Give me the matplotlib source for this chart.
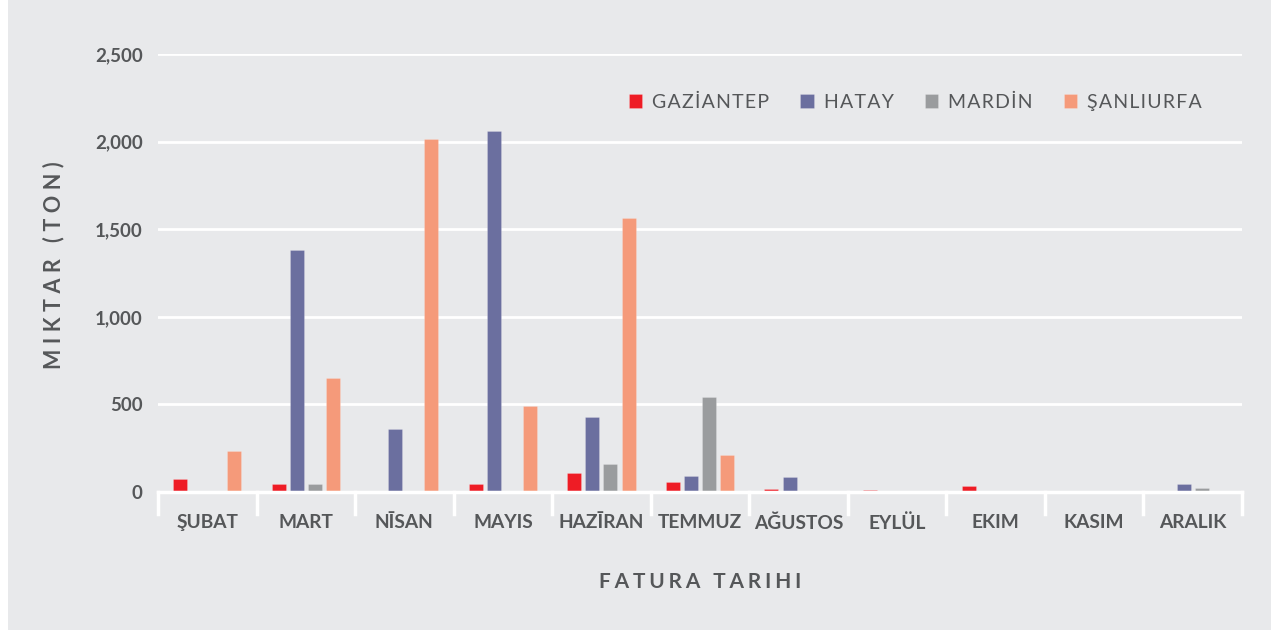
import matplotlib
matplotlib.use("Agg")
import matplotlib.pyplot as plt
import numpy as np
from matplotlib.patches import Rectangle

months = ["ŞUBAT", "MART", "NĪSAN", "MAYIS", "HAZĪRAN", "TEMMUZ", "AĞUSTOS", "EYLÜL", "EKIM", "KASIM", "ARALIK"]
series_names = ["GAZİANTEP", "HATAY", "MARDİN", "ŞANLIURFA"]
gaziantep = [72, 45, 5, 45, 110, 55, 15, 10, 35, 0, 0]
hatay = [0, 1380, 362, 2058, 430, 90, 84, 0, 0, 0, 48]
mardin = [0, 45, 0, 0, 158, 542, 0, 0, 0, 0, 22]
sanliurfa = [232, 650, 2015, 490, 1564, 212, 0, 0, 0, 0, 0]
colors = ["#ee1c25", "#6b6f9f", "#9a9c9e", "#f59a7a"]
yticks = [0, 500, 1000, 1500, 2000, 2500]

bg = "#e8e9eb"
txt = "#555759"
FONT = ["Lato", "DejaVu Sans"]
plt.rcParams["font.family"] = FONT

W, H = 1271, 630
fig = plt.figure(figsize=(W / 100, H / 100), dpi=100)
fig.patch.set_facecolor("white")
fig.add_artist(Rectangle((8 / W, 0), 1 - 8 / W, 1, transform=fig.transFigure,
                         facecolor=bg, edgecolor="none", zorder=-10))

ax = fig.add_axes([158 / W, 1 - 492 / H, (1242 - 158) / W, (492 - 54) / H])
ax.set_facecolor(bg)
ax.patch.set_alpha(0)

n = len(months)
x = np.arange(n)
bw = 0.142
step = 0.183
data = [gaziantep, hatay, mardin, sanliurfa]
for i, (vals, c, name) in enumerate(zip(data, colors, series_names)):
    ax.bar(x + (i - 1.5) * step, vals, width=bw, color=c, label=name,
           edgecolor=(1, 1, 1, 0.25), linewidth=0.5, zorder=3)

ax.set_xlim(-0.5, n - 0.5)
ax.set_ylim(0, 2500)
ax.set_yticks(yticks)
ax.set_yticklabels([f"{v:,}" for v in yticks], fontsize=13.5, color=txt, fontweight="bold")
ax.grid(axis="y", color="white", linewidth=2, zorder=1)
ax.set_axisbelow(True)
for s in ["top", "right", "left"]:
    ax.spines[s].set_visible(False)
ax.spines["bottom"].set_color("white")
ax.spines["bottom"].set_linewidth(2.5)
ax.spines["bottom"].set_zorder(4)
ax.tick_params(axis="y", length=0, pad=11)

ax.set_xticks(x)
ax.set_xticklabels(months, fontsize=13.8, color=txt, fontweight="bold")
ax.tick_params(axis="x", length=0, pad=16)
for b in np.arange(n + 1) - 0.5:
    ax.plot([b, b], [0, -22 * 2500 / 438], color="white", linewidth=2.5,
            clip_on=False, zorder=4)

sp = "\u2009\u200a"
ax.set_ylabel(("\u2009\u2009").join("MIKTAR (TON)"), fontsize=15.5, color=txt, fontweight="bold")
ax.yaxis.set_label_coords(-0.0868, 0.518)
ax.set_xlabel(sp.join("FATURA TARIHI"), fontsize=15, color=txt, fontweight="bold")
ax.xaxis.set_label_coords(0.5, -0.183)

leg = ax.legend(loc="upper right", bbox_to_anchor=(0.979, 0.95), ncol=4, frameon=False,
                fontsize=14, handlelength=0.7, handleheight=0.7, columnspacing=1.6,
                handletextpad=0.5, labelcolor=txt)
for t in leg.get_texts():
    t.set_text("\u200a".join(t.get_text()))

fig.savefig("out.png", dpi=100, facecolor=fig.get_facecolor())
